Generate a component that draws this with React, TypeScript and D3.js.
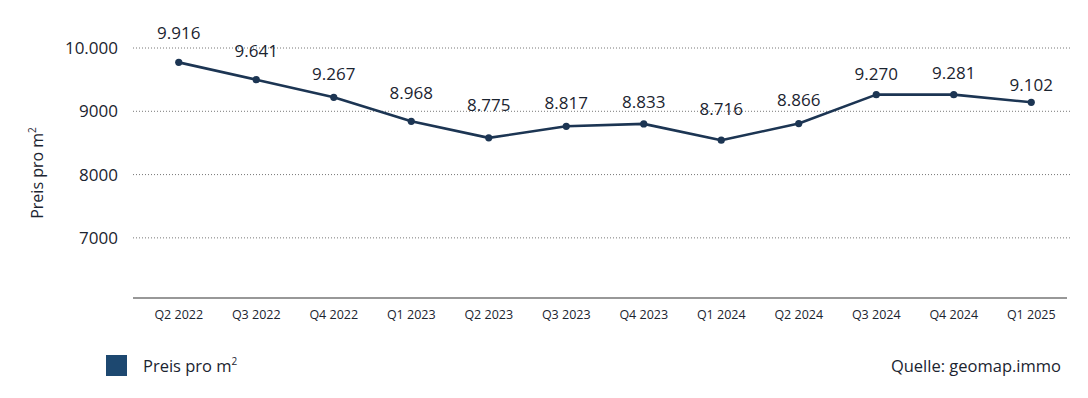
import * as d3 from 'd3';

// quarters on the x axis
const quartale = ['Q2 2022', 'Q3 2022', 'Q4 2022', 'Q1 2023', 'Q2 2023', 'Q3 2023', 'Q4 2023', 'Q1 2024', 'Q2 2024', 'Q3 2024', 'Q4 2024', 'Q1 2025'];
// printed price labels (EUR per m²)
const preis = [9916, 9641, 9267, 8968, 8775, 8817, 8833, 8716, 8866, 9270, 9281, 9102];
// where the line points sit in the picture (they don't line up with the labels)
const linie = [9773, 9500, 9221, 8842, 8580, 8763, 8801, 8543, 8806, 9263, 9263, 9142];
const yTicks = [7000, 8000, 9000, 10000];

const W = 1088;
const H = 398;
const left = 133;
const right = 1070;
const top = 48;
const bottom = 298;

const font = '"Open Sans", "Noto Sans", sans-serif';
const ink = '#1b2430';
const navy = '#1c3553';

const fmtTick = (v: number) => (v >= 10000 ? d3.format(',')(v).replace(/,/g, '.') : String(v));
const fmtLabel = (v: number) => d3.format(',')(v).replace(/,/g, '.');

export default function App() {
  const x = d3.scaleBand().domain(quartale).range([140, right]);
  const y = d3.scaleLinear().domain([6050, 10000]).range([bottom, top]);
  const cx = (q: string) => (x(q) ?? 0) + x.bandwidth() / 2;

  const line = d3
    .line<number>()
    .x((_, i) => cx(quartale[i]))
    .y((d) => y(d));

  return (
    <svg width={W} height={H} style={{ position: 'absolute', left: 0, top: 0, background: '#fff' }} fontFamily={font}>
      {yTicks.map((t) => (
        <g key={t}>
          <line x1={left} x2={1072} y1={y(t)} y2={y(t)} stroke="#777" strokeWidth={1} strokeDasharray="1,2" />
          <text x={118} y={y(t)} dy="0.35em" textAnchor="end" fontSize={17} fill={ink}>
            {fmtTick(t)}
          </text>
        </g>
      ))}
      <line x1={left} x2={1067} y1={bottom} y2={bottom} stroke="#333" strokeWidth={1.2} />
      {quartale.map((q) => (
        <text key={q} x={cx(q)} y={319} textAnchor="middle" fontSize={12.5} fill={ink}>
          {q}
        </text>
      ))}
      <text transform={`translate(43,173) rotate(-90)`} textAnchor="middle" fontSize={16} fill={ink}>
        Preis pro m<tspan fontSize={10} dy={-7}>2</tspan>
      </text>
      <path d={line(linie) ?? ''} fill="none" stroke={navy} strokeWidth={2.6} strokeLinejoin="round" />
      {linie.map((v, i) => (
        <circle key={i} cx={cx(quartale[i])} cy={y(v)} r={3.6} fill={navy} />
      ))}
      {preis.map((v, i) => (
        <text key={i} x={cx(quartale[i])} y={y(v) - 20} dy="0.35em" textAnchor="middle" fontSize={17} fill={ink}>
          {fmtLabel(v)}
        </text>
      ))}
      <rect x={106} y={355} width={21} height={21} fill="#1d4870" />
      <text x={143} y={372} fontSize={16.5} fill={ink}>
        Preis pro m<tspan fontSize={10} dy={-7}>2</tspan>
      </text>
      <text x={1061} y={372} textAnchor="end" fontSize={16.5} fill={ink}>
        Quelle: geomap.immo
      </text>
    </svg>
  );
}
